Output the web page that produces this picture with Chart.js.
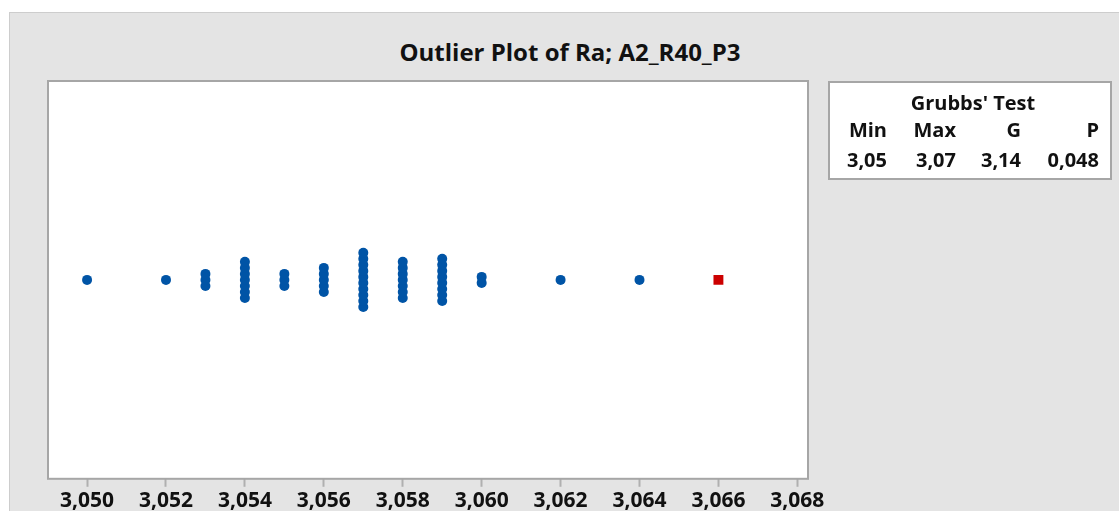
<!DOCTYPE html>
<html>
<head>
<meta charset="utf-8">
<script src="https://cdn.jsdelivr.net/npm/chart.js@4/dist/chart.umd.min.js"></script>
<style>
  html, body { margin: 0; padding: 0; background: #fff; overflow: hidden; }
  body { width: 1119px; height: 511px; position: relative; font-family: "Open Sans", sans-serif; color: #111; }
  #frame { position: absolute; left: 9px; top: 12px; width: 1200px; height: 600px;
           background: #e4e4e4; border-left: 1px solid #cdcdcd; border-top: 1px solid #cdcdcd; }
  #title { position: absolute; left: 0; width: 1140px; top: 38px; text-align: center;
           font-size: 24px; font-weight: 700; line-height: 28px; }
  #chartBox { position: absolute; left: 0; top: 0; width: 1119px; height: 516px; }
  #grubbs { position: absolute; left: 828px; top: 81px; width: 280px; height: 95px;
            background: #fff; border: 2px solid #a6a6a6; }
  .cell { position: absolute; width: 90px; text-align: right; font-size: 20px;
          font-weight: 700; line-height: 24px; white-space: nowrap; }
</style>
</head>
<body>
<div id="frame"></div>
<div id="title">Outlier Plot of Ra; A2_R40_P3</div>
<div id="chartBox"><canvas id="outlierChart"></canvas></div>
<div id="grubbs"></div>
<script>
// observed Ra values and how many times each occurs
const raValues = [3.050, 3.052, 3.053, 3.054, 3.055, 3.056, 3.057, 3.058, 3.059, 3.060, 3.062, 3.064];
const raCounts = [1, 1, 3, 7, 3, 5, 10, 7, 8, 2, 1, 1];
const outlierValues = [3.066];

const tickValues = [3.050, 3.052, 3.054, 3.056, 3.058, 3.060, 3.062, 3.064, 3.066, 3.068];
const tickLabels = ["3,050", "3,052", "3,054", "3,056", "3,058", "3,060", "3,062", "3,064", "3,066", "3,068"];

const grubbsTitle = "Grubbs' Test";
const grubbsHeaders = ["Min", "Max", "G", "P"];
const grubbsValues = ["3,05", "3,07", "3,14", "0,048"];

// stack equal values vertically (y axis is in pixels around the centre line)
const STACK_STEP = 6;
function stackPoints(values, counts) {
  const pts = [];
  values.forEach((v, i) => {
    const n = counts[i];
    for (let k = 0; k < n; k++) {
      pts.push({ x: v, y: (k - (n - 1) / 2) * STACK_STEP });
    }
  });
  return pts;
}

// Grubbs table as plain text
const grubbs = document.getElementById("grubbs");
const colRight = [57, 126, 191, 269]; // right edges inside the box
function addCell(text, right, top) {
  const d = document.createElement("div");
  d.className = "cell";
  d.textContent = text;
  d.style.left = (right - 90) + "px";
  d.style.top = top + "px";
  grubbs.appendChild(d);
}
const head = document.createElement("div");
head.className = "cell";
head.style.left = "0px";
head.style.width = "286px";
head.style.textAlign = "center";
head.style.top = "8px";
head.textContent = grubbsTitle;
grubbs.appendChild(head);
grubbsHeaders.forEach((h, i) => addCell(h, colRight[i], 35));
grubbsValues.forEach((v, i) => addCell(v, colRight[i], 65));

// white plot area with a gray frame
const plotFrame = {
  id: "plotFrame",
  beforeDatasetsDraw(chart) {
    const { ctx, chartArea: a } = chart;
    ctx.save();
    ctx.fillStyle = "#ffffff";
    ctx.fillRect(a.left, a.top, a.right - a.left, a.bottom - a.top);
    ctx.restore();
  },
  afterDatasetsDraw(chart) {
    const { ctx, chartArea: a } = chart;
    ctx.save();
    ctx.strokeStyle = "#a6a6a6";
    ctx.lineWidth = 2;
    ctx.strokeRect(a.left, a.top, a.right - a.left, a.bottom - a.top);
    ctx.restore();
  },
};

new Chart(document.getElementById("outlierChart"), {
  type: "scatter",
  data: {
    datasets: [
      {
        label: "Ra",
        data: stackPoints(raValues, raCounts),
        backgroundColor: "#0054a6",
        borderWidth: 0,
        pointRadius: 5,
        pointHoverRadius: 5,
      },
      {
        label: "Outlier",
        data: stackPoints(outlierValues, outlierValues.map(() => 1)),
        backgroundColor: "#cc0000",
        borderWidth: 0,
        pointStyle: "rect",
        pointRadius: 7,
        pointHoverRadius: 7,
      },
    ],
  },
  options: {
    responsive: true,
    maintainAspectRatio: false,
    animation: false,
    layout: { padding: { left: 48, right: 311, top: 81, bottom: 0 } },
    plugins: {
      legend: { display: false },
      tooltip: { enabled: false },
    },
    scales: {
      x: {
        type: "linear",
        min: 3.04901,
        max: 3.06827,
        afterBuildTicks: (axis) => {
          axis.ticks = tickValues.map((v) => ({ value: v }));
        },
        grid: {
          drawOnChartArea: false,
          drawTicks: true,
          tickLength: 8,
          tickColor: "#b0b0b0",
          tickWidth: 2,
        },
        border: { display: false },
        ticks: {
          autoSkip: false,
          maxRotation: 0,
          padding: 2,
          color: "#111111",
          font: { family: "Open Sans", size: 21, weight: "700", lineHeight: 1.2 },
          callback: (val, i) => tickLabels[i],
        },
      },
      y: {
        display: false,
        min: -198.5,
        max: 198.5,
      },
    },
  },
  plugins: [plotFrame],
});
</script>
</body>
</html>
